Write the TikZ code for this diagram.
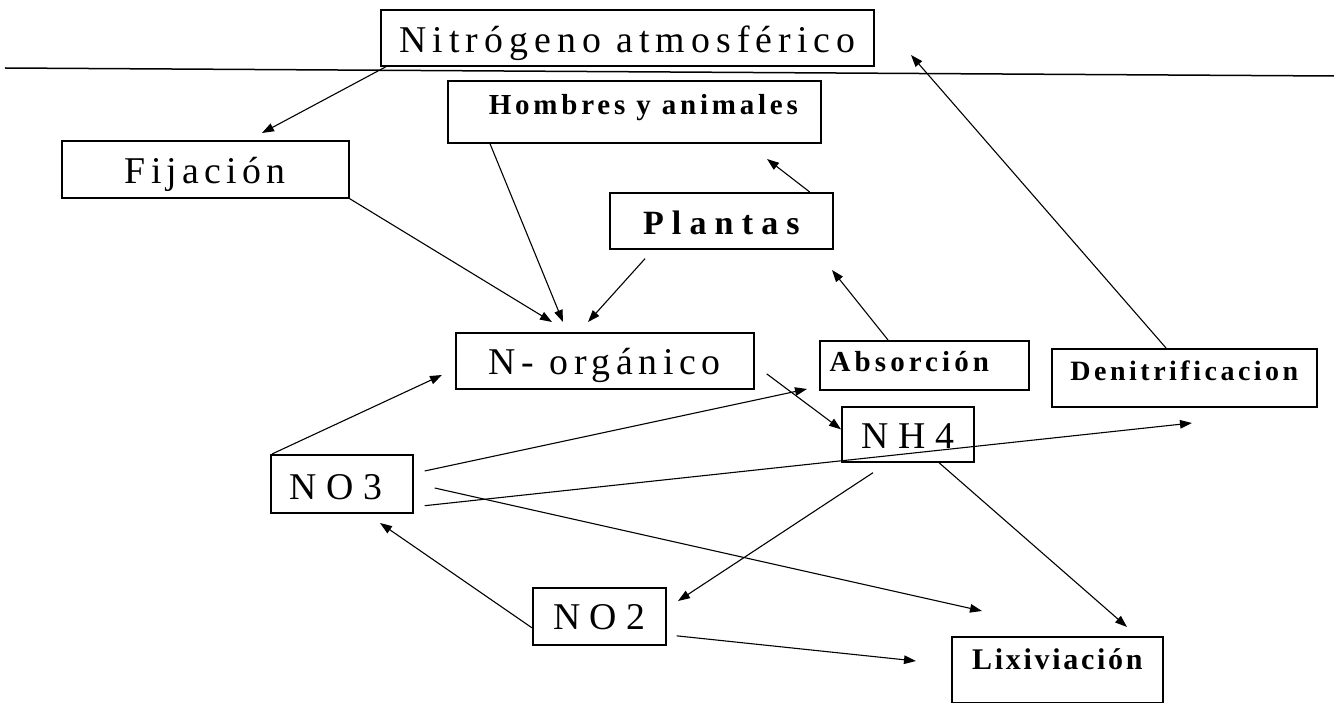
\documentclass[tikz,border=0pt]{standalone}
\usepackage{fontspec}
\setmainfont{Liberation Serif}
\usetikzlibrary{arrows.meta}
\newcommand\plaintxt[2]{\fontsize{#1}{#1}\selectfont\addfontfeature{LetterSpace=#2}}
\newcommand\boldtxt[2]{\fontsize{#1}{#1}\selectfont\bfseries\addfontfeature{LetterSpace=#2}}
\begin{document}
\begin{tikzpicture}[x=1pt, y=-1pt,
  box/.style={draw, line width=1.7pt, inner sep=0pt, anchor=north west},
  arr/.style={-{Triangle[length=12pt,width=8.5pt]}, line width=1.1pt}]
\useasboundingbox (0,0) rectangle (1334,703);

% boxes
\node[box, minimum width=493pt, text height=43pt, text depth=13pt, font=\plaintxt{37.8}{16}] (nitro) at (380,9) {Nitrógeno atmosférico};
\node[box, minimum width=373pt, text height=34pt, text depth=28pt, font=\boldtxt{29}{13}] (hom) at (447,80) {\hspace*{18pt}Hombres y animales};
\node[box, minimum width=287pt, text height=43pt, text depth=14pt, font=\plaintxt{37.8}{14}] (fij) at (61,140) {Fijación};
\node[box, minimum width=223pt, text height=42pt, text depth=14pt, font=\boldtxt{34}{24}] (plant) at (609,192) {Plantas};
\node[box, minimum width=298pt, text height=42pt, text depth=14pt, font=\plaintxt{37.8}{15}] (norg) at (455,332) {N- orgánico};
\node[box, minimum width=209pt, text height=31pt, text depth=18pt, font=\boldtxt{29}{14}] (absor) at (819,340) {Absorción\hspace*{30pt}};
\node[box, minimum width=265pt, text height=32pt, text depth=26pt, font=\boldtxt{28}{12.5}] (denit) at (1051,348) {Denitrificacion};
\node[box, minimum width=132pt, text height=42pt, text depth=13pt, font=\plaintxt{37.8}{25}] (nh4) at (841,406) {NH4};
\node[box, minimum width=142pt, text height=45pt, text depth=13pt, font=\plaintxt{37.8}{25}] (no3) at (270,454) {NO3\hspace*{12pt}};
\node[box, minimum width=133pt, text height=42pt, text depth=15pt, font=\plaintxt{37.8}{25}] (no2) at (532,587) {NO2};
\node[box, minimum width=211pt, text height=33pt, text depth=33pt, font=\boldtxt{30}{9}] (lix) at (951,636) {Lixiviación};

% rule
\coordinate (ruleL) at (5,68);
\coordinate (ruleR) at (1334,76);
\draw[line width=1.5pt] (ruleL) -- (ruleR);

% free arrow ends
\coordinate (tipFij) at (262,133);
\coordinate (tipOrgA) at (552,322);
\coordinate (tipOrgB) at (563,322);
\coordinate (tipOrgC) at (588,322);
\coordinate (tipHom) at (767,159);
\coordinate (tipPlant) at (832,270);
\coordinate (tipNitro) at (911,55);
\coordinate (tipOrgD) at (442,375);
\coordinate (tipAbsor) at (807,389);
\coordinate (tipDenit) at (1192,423);
\coordinate (tipLixA) at (982,611);
\coordinate (tipLixB) at (1127,627);
\coordinate (tipLixC) at (916,661);
\coordinate (tipNo2) at (678,601);
\coordinate (tipNo3) at (380,523);

% arrows
\draw[arr] ([xshift=6pt]nitro.south west) -- (tipFij);
\draw[arr] (fij.south east) -- (tipOrgA);
\draw[arr] ([xshift=43pt]hom.south west) -- (tipOrgB);
\draw[arr] ([xshift=36pt,yshift=-9pt]plant.south west) -- (tipOrgC);
\draw[arr] ([xshift=-24pt]plant.north east) -- (tipHom);
\draw[arr] ([xshift=69pt]absor.north west) -- (tipPlant);
\draw[arr] ([xshift=115pt]denit.north west) -- (tipNitro);
\draw[arr] ([xshift=12pt,yshift=-13pt]norg.east) -- ([yshift=5pt]nh4.west);
\draw[arr] ([xshift=2pt]no3.north west) -- (tipOrgD);
\draw[arr] ([xshift=11pt,yshift=-17pt]no3.north east) -- (tipAbsor);
\draw[arr] ([xshift=11pt,yshift=8pt]no3.south east) -- (tipDenit);
\draw[arr] ([xshift=21pt,yshift=-34pt]no3.north east) -- (tipLixA);
\draw[arr] ([xshift=32pt,yshift=-10pt]nh4.south west) -- (tipNo2);
\draw[arr] ([xshift=98pt]nh4.south west) -- (tipLixB);
\draw[arr] ([yshift=-11.5pt]no2.west) -- (tipNo3);
\draw[arr] ([xshift=10pt,yshift=-19.5pt]no2.east) -- (tipLixC);
\end{tikzpicture}
\end{document}
